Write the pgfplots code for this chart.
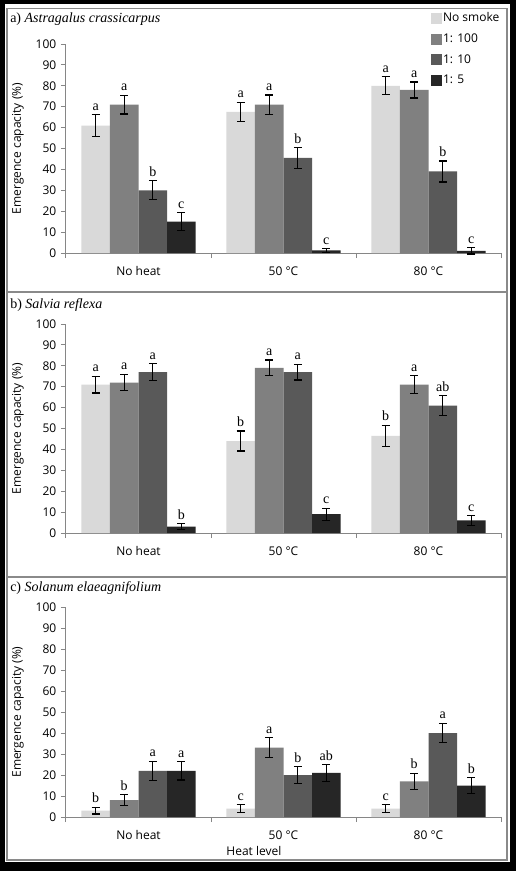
\documentclass[border=0pt]{standalone}
\usepackage{fontspec}
\setmainfont{Open Sans}
\newfontfamily\serif{Liberation Serif}
\usepackage{pgfplots}
\usepackage{pgfplotstable}
\pgfplotsset{compat=1.18}
\definecolor{cns}{HTML}{D9D9D9}
\definecolor{chu}{HTML}{808080}
\definecolor{cte}{HTML}{595959}
\definecolor{cfi}{HTML}{262626}
\definecolor{axgrey}{HTML}{868686}
\definecolor{frgrey}{HTML}{8A8A8A}

% x: 0 = No heat, 1 = 50 C, 2 = 80 C
% ns = No smoke, hu = 1:100, te = 1:10, fi = 1:5 ; e = error, l = letter
\pgfplotstableread{
x ns nse nsl hu hue hul te tee tel fi fie fil
0 61   5.2 a 71 4.5 a 30   4.5 b 15  4.3 c
1 67.5 4.6 a 71 4.6 a 45.5 5.0 b 1.2 1.0 c
2 80   4.3 a 78 3.8 a 39   5.0 b 1.0 1.5 c
}\dataA
\pgfplotstableread{
x ns nse nsl hu hue hul te tee tel fi fie fil
0 71   4.0 a 72 4.0 a 77 4.0 a  3 1.5 b
1 44   4.8 b 79 3.8 a 77 3.8 a  9 2.9 c
2 46.5 5.0 b 71 4.3 a 61 4.8 ab 6 2.4 c
}\dataB
\pgfplotstableread{
x ns nse nsl hu hue hul te tee tel fi fie fil
0 3 1.6 b  8 2.7 b 22 4.5 a 22 4.4 a
1 4 2.0 c 33 4.8 a 20 4.0 b 21 4.0 ab
2 4 2.0 c 17 3.8 b 40 4.7 a 15 3.8 b
}\dataC

\pgfplotsset{
  panel/.style={
    scale only axis, width=326.25pt, anchor=south west,
    xmin=-0.5, xmax=2.5, ymin=0, ymax=100,
    axis x line*=bottom, axis y line*=left,
    axis line style={draw=axgrey, line width=0.75pt, -},
    ytick={0,10,...,100},
    tick align=outside, major tick length=3.75pt,
    tick style={draw=axgrey, line width=0.75pt},
    xtick={-0.5,0.5,1.5,2.5}, xticklabels={},
    extra x ticks={0,1,2},
    extra x tick labels={No heat,50 °C,80 °C},
    extra x tick style={major tick length=0pt,
      xticklabel style={anchor=base, yshift=-16.5pt}},
    tick label style={font=\fontsize{9}{11}\selectfont, text=black},
    /pgf/number format/assume math mode=true,
    ylabel={Emergence capacity (\%)},
    every axis y label/.style={at={(axis description cs:-0.1103,0.5)},
      anchor=center, rotate=90, font=\fontsize{9}{11}\selectfont},
    clip=false,
  },
  bb/.style={ybar, bar width=0.1966, bar shift=0pt, draw=none, fill=#1,
    error bars/.cd, y dir=both, y explicit,
    error bar style={draw=black, line width=0.9pt},
    error mark=-, error mark options={draw=black, line width=0.9pt, mark size=3pt, rotate=90}},
  lets/.style={ybar, bar width=0.1966, bar shift=0pt, draw=none, fill=none, forget plot,
    nodes near coords, point meta=explicit symbolic,
    every node near coord/.append style={font=\serif\fontsize{10.5}{12}\selectfont,
      text=black, anchor=south, inner sep=3pt}},
}
\newcommand\bars[1]{%
  \addplot[bb=cns] table[x expr=\thisrow{x}-0.2949, y=ns, y error=nse] {#1};
  \addplot[bb=chu] table[x expr=\thisrow{x}-0.0983, y=hu, y error=hue] {#1};
  \addplot[bb=cte] table[x expr=\thisrow{x}+0.0983, y=te, y error=tee] {#1};
  \addplot[bb=cfi] table[x expr=\thisrow{x}+0.2949, y=fi, y error=fie] {#1};
  \addplot[lets] table[x expr=\thisrow{x}-0.2949, y expr=\thisrow{ns}+\thisrow{nse}, meta=nsl] {#1};
  \addplot[lets] table[x expr=\thisrow{x}-0.0983, y expr=\thisrow{hu}+\thisrow{hue}, meta=hul] {#1};
  \addplot[lets] table[x expr=\thisrow{x}+0.0983, y expr=\thisrow{te}+\thisrow{tee}, meta=tel] {#1};
  \addplot[lets] table[x expr=\thisrow{x}+0.2949, y expr=\thisrow{fi}+\thisrow{fie}, meta=fil] {#1};
}

\begin{document}
\begin{tikzpicture}
\begin{scope}[x=0.75pt, y=-0.75pt]
  \fill[black] (0,0) rectangle (516,871);
  \fill[white] (5,4) rectangle (510,862);
  \draw[frgrey, line width=1.1pt] (7,8.5) rectangle (507,860);
  \draw[frgrey, line width=1.1pt] (7,292) -- (507,292);
  \draw[frgrey, line width=1.1pt] (7,577) -- (507,577);
  \node[anchor=base west, inner sep=0, font=\serif\fontsize{10.5}{12}\selectfont] at (10,22) {a) \textit{Astragalus crassicarpus}};
  \node[anchor=base west, inner sep=0, font=\serif\fontsize{10.5}{12}\selectfont] at (10,308) {b) \textit{Salvia reflexa}};
  \node[anchor=base west, inner sep=0, font=\serif\fontsize{10.5}{12}\selectfont] at (10,591) {c) \textit{Solanum elaeagnifolium}};
\end{scope}

\begin{axis}[panel, height=156.75pt, at={(49.5pt,-189.75pt)},
  legend style={at={(axis description cs:1,1.158)}, anchor=north east,
    draw=none, fill=none, font=\fontsize{9}{11}\selectfont,
    row sep=4.5pt, inner sep=0pt,
    nodes={inner sep=1pt, text height=7pt, text depth=2pt}},
  legend cell align=left,
  legend image code/.code={\fill[#1] (0pt,-4.125pt) rectangle (8.25pt,4.125pt);},
]
\bars{\dataA}
\legend{No smoke,1: 100,1: 10,1: 5}
\end{axis}

\begin{axis}[panel, height=156.75pt, at={(49.5pt,-399.75pt)}]
\bars{\dataB}
\end{axis}

\begin{axis}[panel, height=157.5pt, at={(49.5pt,-612.75pt)},
  xlabel={Heat level},
  every axis x label/.style={at={(axis description cs:0.432,-0.162)},
    anchor=center, font=\fontsize{9}{11}\selectfont},
]
\bars{\dataC}
\end{axis}
\end{tikzpicture}
\end{document}
